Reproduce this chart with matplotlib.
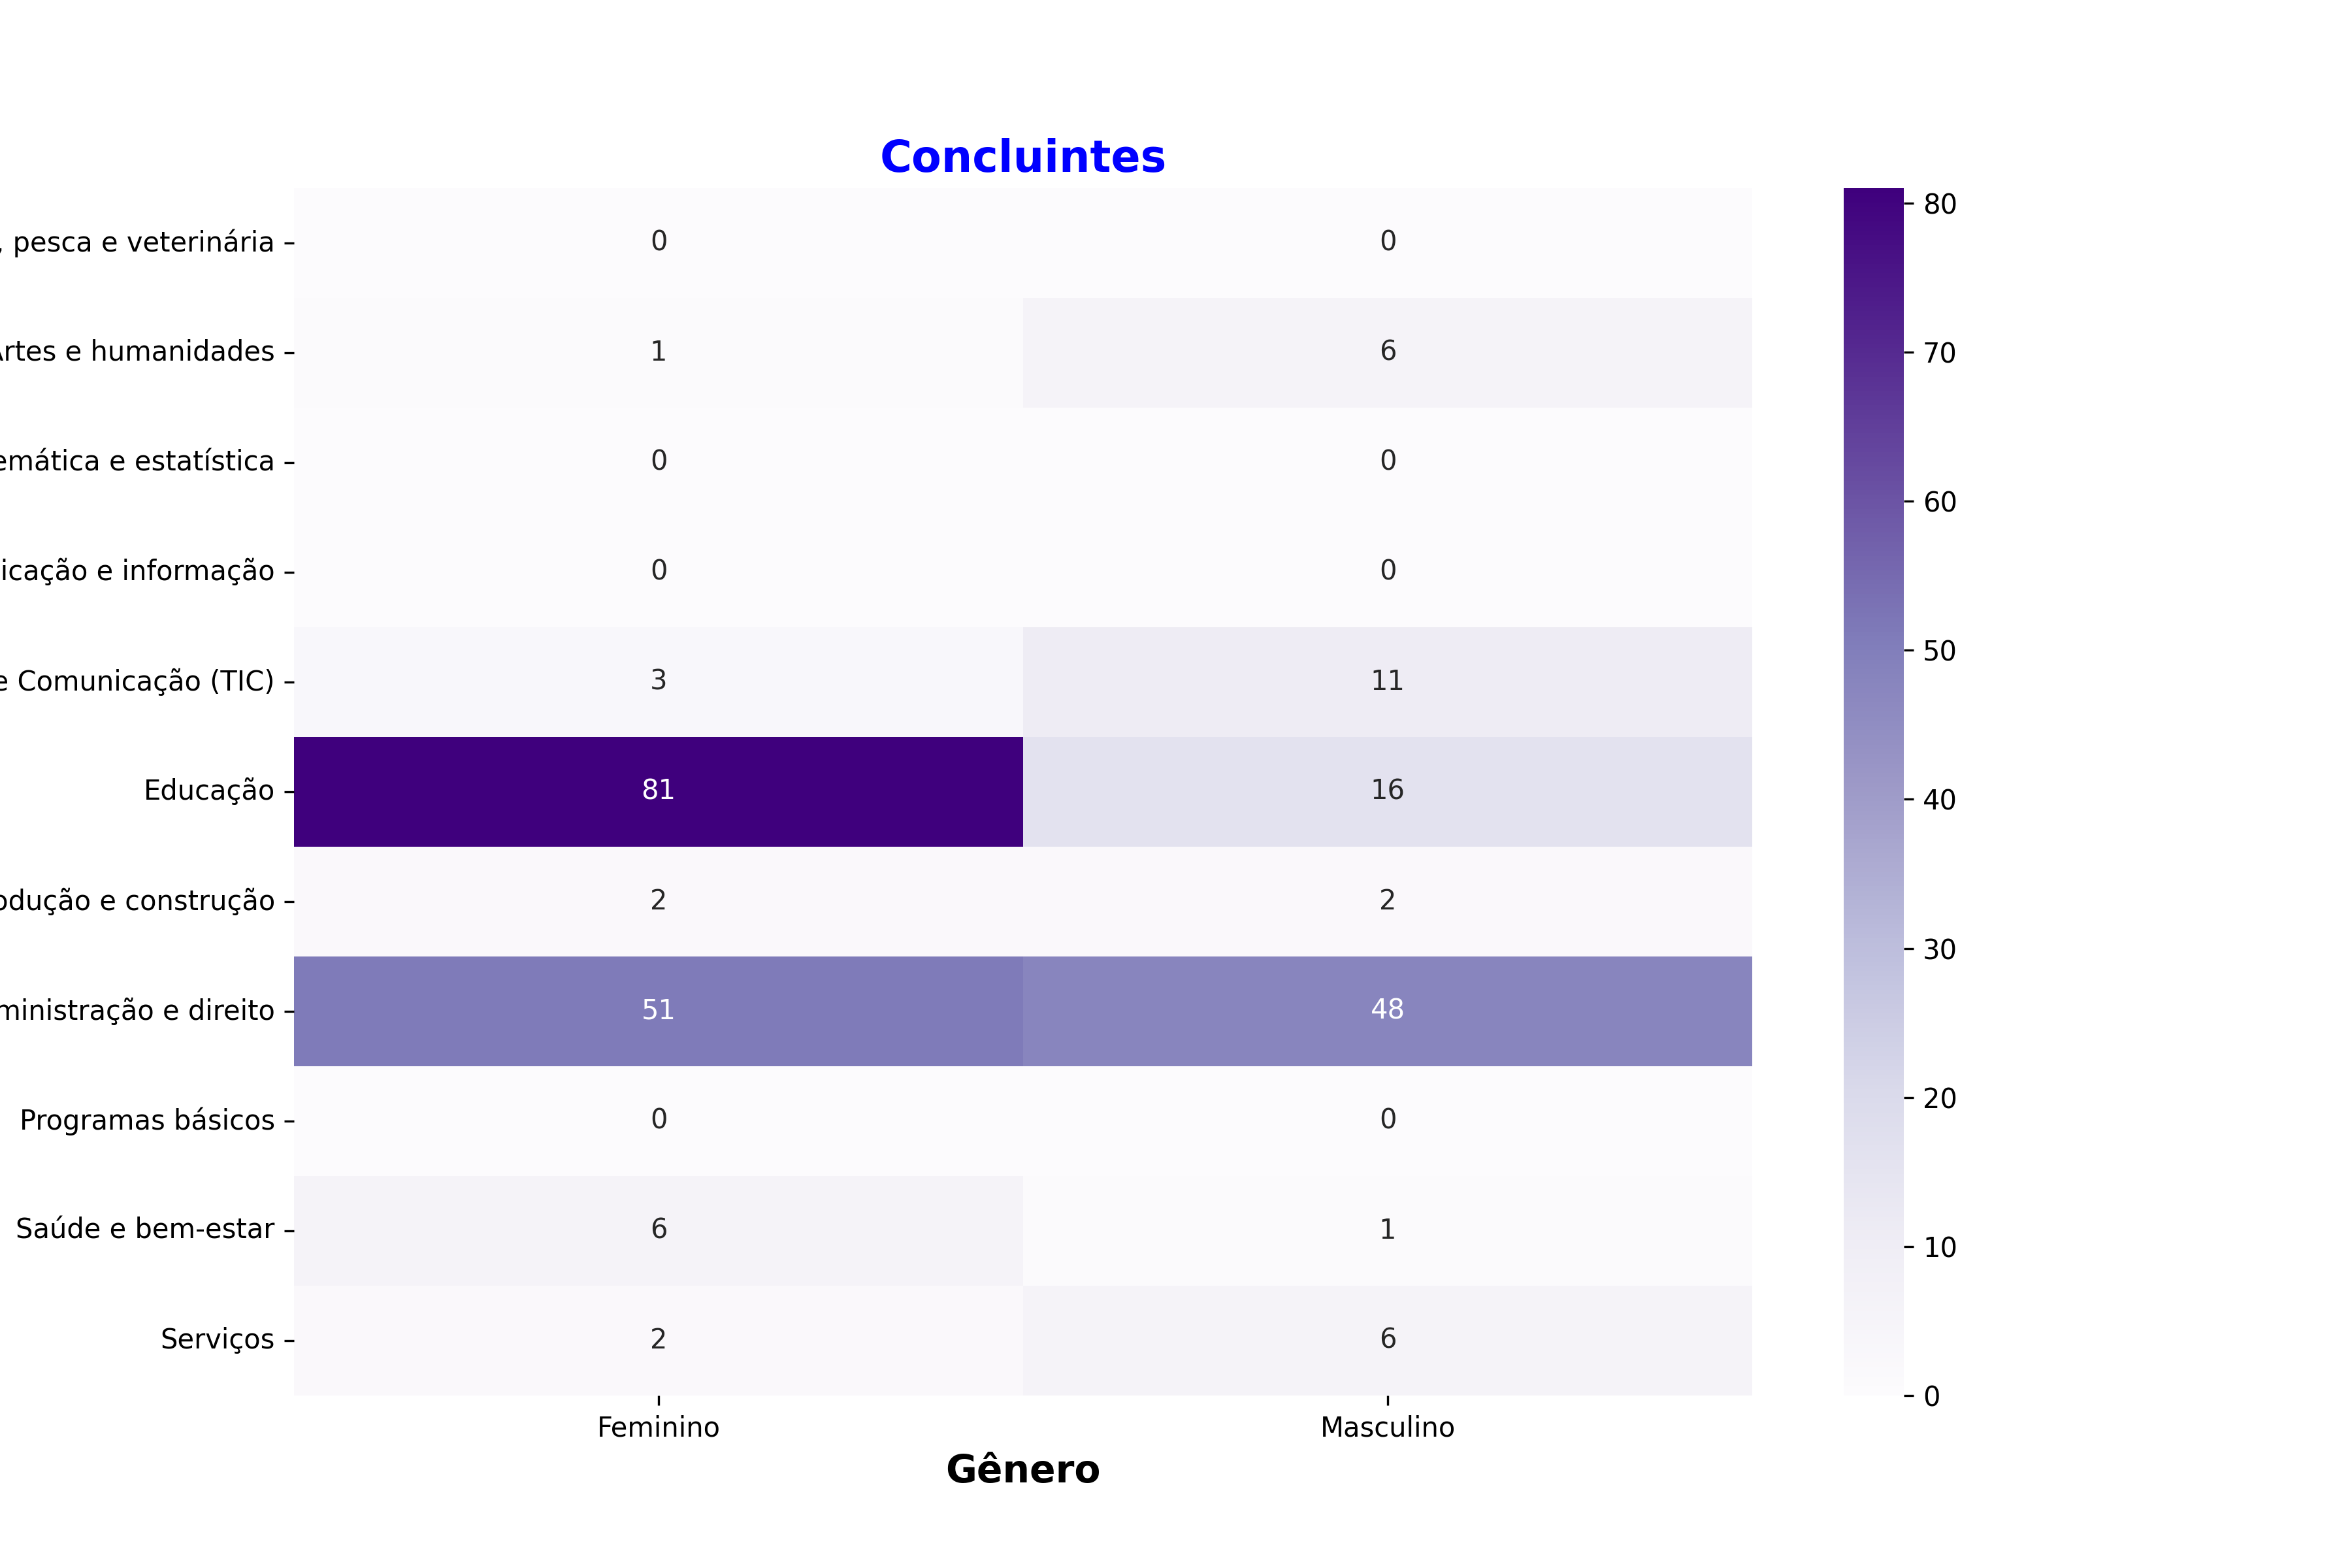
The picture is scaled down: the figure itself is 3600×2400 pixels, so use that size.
import matplotlib
matplotlib.use("Agg")
import matplotlib.pyplot as plt
import seaborn as sns
import pandas as pd

areas = [
    "Agricultura, silvicultura, pesca e veterinária",
    "Artes e humanidades",
    "Ciências naturais, matemática e estatística",
    "Ciências sociais, comunicação e informação",
    "Computação e Tecnologias da Informação e Comunicação (TIC)",
    "Educação",
    "Engenharia, produção e construção",
    "Negócios, administração e direito",
    "Programas básicos",
    "Saúde e bem-estar",
    "Serviços",
]
generos = ["Feminino", "Masculino"]
feminino = [0, 1, 0, 0, 3, 81, 2, 51, 0, 6, 2]
masculino = [0, 6, 0, 0, 11, 16, 2, 48, 0, 1, 6]

df = pd.DataFrame({"Feminino": feminino, "Masculino": masculino}, index=areas)

fig = plt.figure(figsize=(12, 8), dpi=300)
ax = fig.add_subplot(111)
sns.heatmap(df, annot=True, fmt="d", cmap="Purples", ax=ax)
ax.set_title("Concluintes", color="blue", fontsize=16, fontweight="bold")
ax.set_xlabel("Gênero", fontsize=14, fontweight="bold")
ax.set_ylabel("")
fig.savefig("out.png", dpi=300)
